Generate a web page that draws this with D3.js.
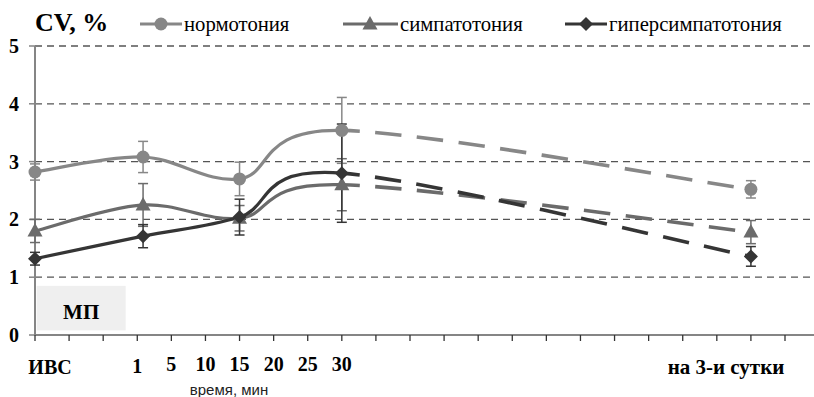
<!DOCTYPE html>
<html><head><meta charset="utf-8">
<script src="https://cdn.jsdelivr.net/npm/d3@7/dist/d3.min.js"></script>
<style>body{margin:0;background:#fff}svg{display:block}</style>
</head><body>
<svg id="c" width="814" height="397"></svg>
<script>
// ---- data ----
const seriesNames = ["нормотония", "симпатотония", "гиперсимпатотония"];
const pointPos = [0, 3.17, 6, 9, 21];          // position of each measurement on the time axis (category index)
const normo = [2.82, 3.08, 2.70, 3.54, 2.52];
const sympa = [1.80, 2.25, 2.02, 2.60, 1.78];
const hyper = [1.32, 1.71, 2.04, 2.80, 1.36];
const normoErr = [0.14, 0.27, 0.29, 0.57, 0.15];
const sympaErr = [0.20, 0.37, 0.22, 0.45, 0.20];
const hyperErr = [0.11, 0.20, 0.31, 0.85, 0.17];
const xLabels = ["ИВС", "1", "5", "10", "15", "20", "25", "30", "на 3-и сутки"];
const xLabelPos = [0.44, 3, 4, 5, 6, 7, 8, 9, 20.27];
const xTickCount = 22;
const yTicks = [0, 1, 2, 3, 4, 5];

const colors = ["#878787", "#6b6b6b", "#353535"];
const shapes = ["circle", "triangle", "diamond"];

const svg = d3.select("#c");
const x = d3.scaleLinear().domain([0, xTickCount]).range([35, 785]);
const y = d3.scaleLinear().domain([0, 5]).range([335, 46]);
const serif = "'Liberation Serif','Times New Roman',serif";

// gridlines
svg.append("g").selectAll("line").data(yTicks.filter(d => d > 0)).join("line")
  .attr("x1", x(0)).attr("x2", 814).attr("y1", d => y(d)).attr("y2", d => y(d))
  .attr("stroke", "#555").attr("stroke-width", 1.3).attr("stroke-dasharray", "7,5");

// MП box
svg.append("rect").attr("x", x(0.05)).attr("y", y(0.85)).attr("width", x(2.66) - x(0.05))
  .attr("height", y(0.08) - y(0.85)).attr("fill", "#efefef");
svg.append("text").attr("x", (x(0.05) + x(2.66)) / 2).attr("y", y(0.4)).attr("dy", "0.35em")
  .attr("text-anchor", "middle").attr("font-family", serif).attr("font-weight", "bold")
  .attr("font-size", 21).text("МП");

// axes
const axisCol = "#858585";
svg.append("line").attr("x1", x(0)).attr("x2", x(0)).attr("y1", y(0)).attr("y2", y(5))
  .attr("stroke", axisCol).attr("stroke-width", 2);
svg.append("g").selectAll("line").data(yTicks).join("line")
  .attr("x1", x(0) - 6).attr("x2", x(0)).attr("y1", d => y(d)).attr("y2", d => y(d))
  .attr("stroke", axisCol).attr("stroke-width", 1.5);
svg.append("g").selectAll("text").data(yTicks).join("text")
  .attr("x", 19).attr("y", d => y(d)).attr("dy", "0.35em").attr("text-anchor", "end")
  .attr("font-family", serif).attr("font-weight", "bold").attr("font-size", 20).text(d => d);

svg.append("line").attr("x1", x(0)).attr("x2", 814).attr("y1", y(0)).attr("y2", y(0))
  .attr("stroke", axisCol).attr("stroke-width", 2);
svg.append("g").selectAll("line").data(d3.range(0, xTickCount + 1)).join("line")
  .attr("x1", d => x(d)).attr("x2", d => x(d)).attr("y1", y(0)).attr("y2", y(0) + 6)
  .attr("stroke", "#333").attr("stroke-width", 1.3);
svg.append("g").selectAll("text").data(xLabels).join("text")
  .attr("x", (d, i) => x(xLabelPos[i])).attr("y", (d, i) => i === 1 ? 373 : (i === 0 || i === 8 ? 374 : 371))
  .attr("text-anchor", "middle").attr("font-family", serif).attr("font-weight", "bold")
  .attr("font-size", (d, i) => i === 8 ? 21 : 20).text(d => d);
svg.append("text").attr("x", 229).attr("y", 395).attr("text-anchor", "middle")
  .attr("font-family", "'Liberation Sans',Arial,sans-serif").attr("font-size", 15).attr("fill", "#222")
  .text("время, мин");

// title
svg.append("text").attr("x", 35).attr("y", 31).attr("font-family", serif).attr("font-weight", "bold")
  .attr("font-size", 26).text("CV, %");

// marker helper
function marker(g, shape, cx, cy, col) {
  if (shape === "circle") g.append("circle").attr("cx", cx).attr("cy", cy).attr("r", 6.5).attr("fill", col);
  else if (shape === "triangle") g.append("path").attr("d", `M${cx},${cy - 8}L${cx + 7.5},${cy + 5.5}L${cx - 7.5},${cy + 5.5}Z`).attr("fill", col);
  else g.append("path").attr("d", `M${cx},${cy - 7}L${cx + 7},${cy}L${cx},${cy + 7}L${cx - 7},${cy}Z`).attr("fill", col);
}

// smoothed segments (Catmull-Rom style Bezier, 1/6 tangents)
function segPaths(pts) {
  const n = pts.length, out = [];
  for (let i = 0; i < n - 1; i++) {
    const p0 = pts[Math.max(i - 1, 0)], p1 = pts[i], p2 = pts[i + 1], p3 = pts[Math.min(i + 2, n - 1)];
    const c1 = [p1[0] + (p2[0] - p0[0]) / 6, p1[1] + (p2[1] - p0[1]) / 6];
    const c2 = [p2[0] - (p3[0] - p1[0]) / 6, p2[1] - (p3[1] - p1[1]) / 6];
    out.push({ start: p1, d: `C${c1[0]},${c1[1]} ${c2[0]},${c2[1]} ${p2[0]},${p2[1]}` });
  }
  return out;
}

const allVals = [normo, sympa, hyper];
const allErr = [normoErr, sympaErr, hyperErr];
const linesG = svg.append("g"), errG = svg.append("g"), markG = svg.append("g");

allVals.forEach((vals, s) => {
  const pts = vals.map((v, i) => [x(pointPos[i]), y(v)]);
  const segs = segPaths(pts);
  const solid = "M" + segs[0].start.join(",") + segs.slice(0, 3).map(d => d.d).join("");
  linesG.append("path").attr("d", solid).attr("fill", "none").attr("stroke", colors[s])
    .attr("stroke-width", 3.2).attr("stroke-linecap", "round");
  const dashed = "M" + segs[3].start.join(",") + segs[3].d;
  linesG.append("path").attr("d", dashed).attr("fill", "none").attr("stroke", colors[s])
    .attr("stroke-width", 3.6).attr("stroke-dasharray", "26.5,15.5").attr("stroke-dashoffset", 8.5);
});

allVals.forEach((vals, s) => {
  vals.forEach((v, i) => {
    const cx = x(pointPos[i]), e = allErr[s][i];
    errG.append("line").attr("x1", cx).attr("x2", cx).attr("y1", y(v - e)).attr("y2", y(v + e))
      .attr("stroke", colors[s]).attr("stroke-width", 1.5);
    [v - e, v + e].forEach(t => errG.append("line").attr("x1", cx - 5).attr("x2", cx + 5)
      .attr("y1", y(t)).attr("y2", y(t)).attr("stroke", colors[s]).attr("stroke-width", 1.5));
    marker(markG, shapes[s], cx, y(v), colors[s]);
  });
});

// legend
const legX = [[140, 182, 161, 184], [343, 398, 370, 400], [565, 607, 586, 609]];
seriesNames.forEach((nm, s) => {
  const g = svg.append("g");
  g.append("line").attr("x1", legX[s][0]).attr("x2", legX[s][1]).attr("y1", 24).attr("y2", 24)
    .attr("stroke", colors[s]).attr("stroke-width", 3.2);
  marker(g, shapes[s], legX[s][2], 24, colors[s]);
  g.append("text").attr("x", legX[s][3]).attr("y", 31).attr("font-family", serif)
    .attr("font-size", 20.7).text(nm);
});
</script>
</body></html>
